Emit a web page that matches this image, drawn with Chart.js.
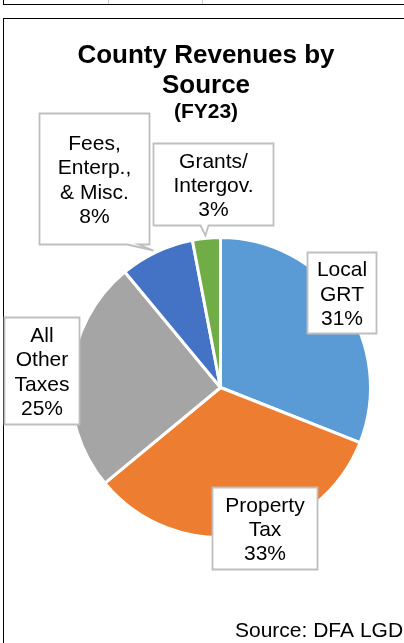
<!DOCTYPE html>
<html>
<head>
<meta charset="utf-8">
<script src="https://cdn.jsdelivr.net/npm/chart.js@4"></script>
<style>
  body { margin: 0; background: #fff; overflow: hidden; }
  #wrap { position: relative; width: 404px; height: 643px; }
  .line { position: absolute; }
  canvas { position: absolute; left: 0; top: 0; }
</style>
</head>
<body>
<div id="wrap">
  <div class="line" style="left:3px;top:4px;width:410px;height:0;border-top:1.6px solid #000"></div>
  <div class="line" style="left:3px;top:0;width:0;height:5px;border-left:1.6px solid #000"></div>
  <div class="line" style="left:107.5px;top:0;width:0;height:4px;border-left:1.5px solid #c8c8c8"></div>
  <div class="line" style="left:201.5px;top:0;width:0;height:4px;border-left:1.5px solid #c8c8c8"></div>
  <div class="line" style="left:3px;top:18px;width:420px;height:640px;border-top:1.8px solid #000;border-left:1.8px solid #000"></div>
  <canvas id="pieChart" width="404" height="643"></canvas>
</div>
<script>
const categorias = [
  ['Local', 'GRT'],
  ['Property', 'Tax'],
  ['All', 'Other', 'Taxes'],
  ['Fees,', 'Enterp.,', '& Misc.'],
  ['Grants/', 'Intergov.']
];
const percentuais = [31, 33, 25, 8, 3];
const cores = ['#5B9BD5', '#ED7D31', '#A5A5A5', '#4472C4', '#70AD47'];

const fonte = "'Liberation Sans', Arial, sans-serif";

// caixas dos rótulos, relativas ao centro da pizza: dx, dy (canto sup. esq.), largura, altura, ponta
const caixas = [
  { dx: 87, dy: -135, w: 69, h: 81 },
  { dx: -8, dy: 100, w: 105, h: 82 },
  { dx: -216, dy: -70, w: 75, h: 107 },
  { dx: -181, dy: -274, w: 110, h: 131, ponta: { a: -93, b: -82, tx: -67, ty: -137 } },
  { dx: -67, dy: -244, w: 120, h: 82, ponta: { a: -20, b: -12, tx: -15, ty: -152 } }
];

const rotulos = {
  id: 'rotulos',
  afterDatasetsDraw(chart) {
    const ctx = chart.ctx;
    const arcs = chart.getDatasetMeta(0).data;
    const cx = arcs[0].x, cy = arcs[0].y;
    ctx.save();
    caixas.forEach((c, i) => {
      const x = cx + c.dx, y = cy + c.dy;
      ctx.beginPath();
      ctx.moveTo(x, y);
      ctx.lineTo(x + c.w, y);
      ctx.lineTo(x + c.w, y + c.h);
      if (c.ponta) {
        ctx.lineTo(cx + c.ponta.b, y + c.h);
        ctx.lineTo(cx + c.ponta.tx, cy + c.ponta.ty);
        ctx.lineTo(cx + c.ponta.a, y + c.h);
      }
      ctx.lineTo(x, y + c.h);
      ctx.closePath();
      ctx.fillStyle = '#fff';
      ctx.fill();
      ctx.strokeStyle = '#bfbfbf';
      ctx.lineWidth = 1.8;
      ctx.stroke();

      const linhas = categorias[i].concat([percentuais[i] + '%']);
      const lh = 24.3;
      ctx.fillStyle = '#000';
      ctx.font = '21px ' + fonte;
      ctx.textAlign = 'center';
      ctx.textBaseline = 'alphabetic';
      const meio = y + c.h / 2;
      linhas.forEach((t, k) => {
        const yy = meio + (k - (linhas.length - 1) / 2) * lh + 7.5;
        ctx.fillText(t, x + c.w / 2, yy);
      });
    });
    ctx.restore();
  },
  afterDraw(chart) {
    const ctx = chart.ctx;
    ctx.save();
    ctx.fillStyle = '#000';
    ctx.textAlign = 'center';
    ctx.textBaseline = 'alphabetic';
    ctx.font = 'bold 26px ' + fonte;
    ctx.fillText('County Revenues by', 206, 63);
    ctx.fillText('Source', 206, 93);
    ctx.font = 'bold 21px ' + fonte;
    ctx.fillText('(FY23)', 206, 118);
    ctx.font = '21px ' + fonte;
    ctx.textAlign = 'left';
    ctx.fillText('Source: DFA LGD', 235, 637);
    ctx.restore();
  }
};

new Chart(document.getElementById('pieChart'), {
  type: 'pie',
  data: {
    labels: categorias,
    datasets: [{
      data: percentuais,
      backgroundColor: cores,
      borderColor: '#fff',
      borderWidth: 3
    }]
  },
  options: {
    responsive: false,
    animation: false,
    devicePixelRatio: 1,
    layout: { padding: { left: 69, right: 32, top: 236, bottom: 104 } },
    plugins: {
      legend: { display: false },
      tooltip: { enabled: false },
      title: { display: false }
    }
  },
  plugins: [rotulos]
});
</script>
</body>
</html>
